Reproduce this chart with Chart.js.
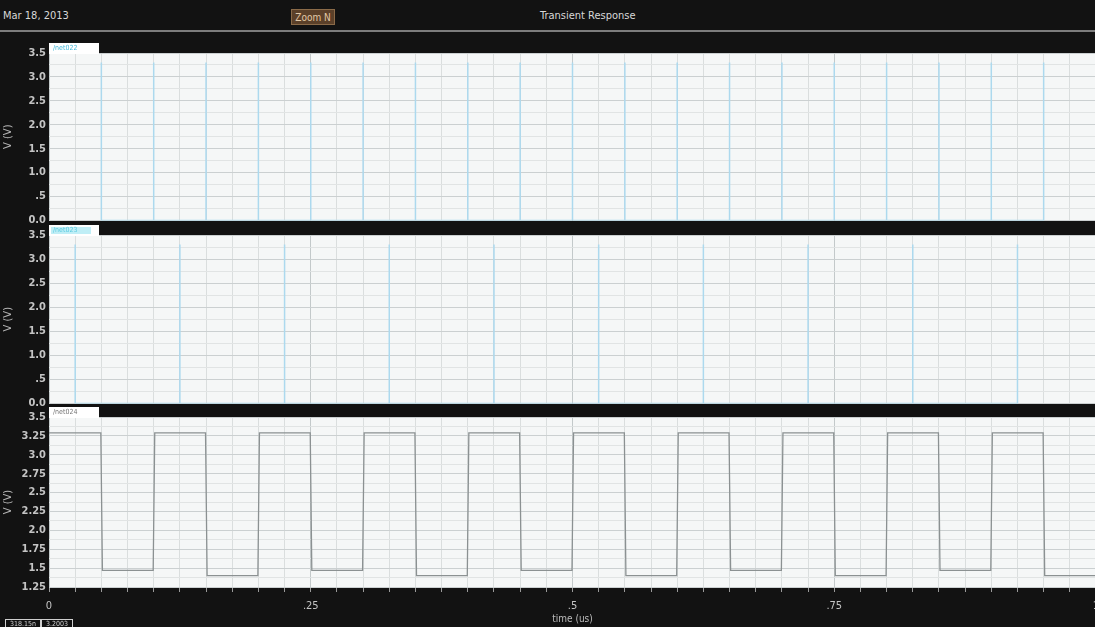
<!DOCTYPE html>
<html>
<head>
<meta charset="utf-8">
<script src="https://cdn.jsdelivr.net/npm/chart.js@4.4.1/dist/chart.umd.min.js"></script>
<style>
  html, body { margin:0; padding:0; width:1095px; height:627px; overflow:hidden; background:#121212; }
  body { position:relative; font-family:'Liberation Sans Narrow','DejaVu Sans Condensed','Liberation Sans',sans-serif; }
  canvas { position:absolute; left:0; }
  .hdr { position:absolute; color:#d8d8d8; font-size:11px; white-space:nowrap; }
  #hline { position:absolute; left:0; top:30px; width:1095px; height:2px; background:#7d7d7d; }
  #zoom { position:absolute; left:291px; top:9px; width:44px; height:16px; background:#5b4029; border:1px solid #8a6a48; color:#e2c9a8; font-size:10px; line-height:16px; text-align:center; box-sizing:border-box; }
  #status { position:absolute; left:5px; top:619px; height:9px; display:flex; }
  #status div { border:1px solid #cfcfcf; border-bottom:none; color:#cfcfcf; font-size:7px; line-height:8px; padding:0 4px; }
</style>
</head>
<body>
<div class="hdr" style="left:3px; top:9px;">Mar 18, 2013</div>
<div id="zoom">Zoom N</div>
<div class="hdr" style="left:540px; top:9px;">Transient Response</div>
<div id="hline"></div>

<canvas id="c1"></canvas>
<canvas id="c2"></canvas>
<canvas id="c3"></canvas>

<div id="status"><div>318.15n</div><div>3.2003</div></div>

<script>
// ---------- data ----------
// x axis (time, us)
const xTickLabels = ['0', '.25', '.5', '.75', '1'];
const xTickValues = [0, 0.25, 0.5, 0.75, 1];

// panel 1: narrow clock spikes (time of each spike, us)
const clkATimes = [0.05, 0.10, 0.15, 0.20, 0.25, 0.30, 0.35, 0.40, 0.45, 0.50,
                   0.55, 0.60, 0.65, 0.70, 0.75, 0.80, 0.85, 0.90, 0.95];
const clkAPeak = 3.3;

// panel 2: narrow clock spikes (time of each spike, us)
const clkBTimes = [0.025, 0.125, 0.225, 0.325, 0.425, 0.525, 0.625, 0.725, 0.825, 0.925];
const clkBPeak = 3.3;

// panel 3: /net024 square wave (time us, volts)
const outTime = [0, 0.0495, 0.051, 0.0995, 0.101, 0.1495, 0.151, 0.1995, 0.201, 0.2495,
                 0.251, 0.2995, 0.301, 0.3495, 0.351, 0.3995, 0.401, 0.4495, 0.451, 0.4995,
                 0.501, 0.5495, 0.551, 0.5995, 0.601, 0.6495, 0.651, 0.6995, 0.701, 0.7495,
                 0.751, 0.7995, 0.801, 0.8495, 0.851, 0.8995, 0.901, 0.9495, 0.951, 1.0];
const outVolt = [3.29, 3.29, 1.47, 1.47, 3.29, 3.29, 1.40, 1.40, 3.29, 3.29,
                 1.47, 1.47, 3.29, 3.29, 1.40, 1.40, 3.29, 3.29, 1.47, 1.47,
                 3.29, 3.29, 1.40, 1.40, 3.29, 3.29, 1.47, 1.47, 3.29, 3.29,
                 1.40, 1.40, 3.29, 3.29, 1.47, 1.47, 3.29, 3.29, 1.40, 1.40];

// y tick labels
const y12TickValues = [0, 0.5, 1.0, 1.5, 2.0, 2.5, 3.0, 3.5];
const y12TickLabels = ['0.0', '.5', '1.0', '1.5', '2.0', '2.5', '3.0', '3.5'];
const y3TickValues = [1.25, 1.5, 1.75, 2.0, 2.25, 2.5, 2.75, 3.0, 3.25, 3.5];
const y3TickLabels = ['1.25', '1.5', '1.75', '2.0', '2.25', '2.5', '2.75', '3.0', '3.25', '3.5'];

const panelNames = ['/net022', '/net023', '/net024'];

// ---------- helpers ----------
function spikes(times, peak) {
  const pts = [];
  times.forEach(t => { pts.push({x:t, y:0}); pts.push({x:t, y:peak}); pts.push({x:t, y:0}); });
  return pts;
}
function pairs(xs, ys) { return xs.map((x, i) => ({x:x, y:ys[i]})); }
function labelFor(values, labels, v) {
  for (let i = 0; i < values.length; i++) if (Math.abs(values[i] - v) < 1e-6) return labels[i];
  return '';
}
const FONT = "'Liberation Sans Narrow','DejaVu Sans Condensed','Liberation Sans',sans-serif";

const panelPlugin = {
  id: 'panelDeco',
  beforeDraw(chart) {
    const a = chart.chartArea, c = chart.ctx;
    c.save();
    c.fillStyle = '#f5f7f7';
    c.fillRect(a.left, a.top, a.right - a.left, a.bottom - a.top);
    c.restore();
  },
  afterDraw(chart) {
    const o = chart.options.plugins.panelDeco;
    const a = chart.chartArea, c = chart.ctx;
    c.save();
    c.fillStyle = '#ffffff';
    c.fillRect(a.left, a.top - 10, 50, 11);
    if (o.fill) { c.fillStyle = o.fill; c.fillRect(a.left + 2, a.top - 8, 40, 7); }
    c.fillStyle = o.color;
    c.font = "7px " + FONT;
    c.textBaseline = 'middle';
    c.fillText(o.text, a.left + 4, a.top - 4.5);
    c.restore();
  }
};

const CANVAS_W = 1108;
function makeChart(id, top, height, datasets, yCfg, showX, deco) {
  const cv = document.getElementById(id);
  cv.width = CANVAS_W; cv.height = height;
  cv.style.width = CANVAS_W + 'px'; cv.style.height = height + 'px';
  cv.style.top = top + 'px';
  return new Chart(cv, {
    type: 'line',
    data: { datasets: datasets },
    plugins: [panelPlugin],
    options: {
      responsive: false, animation: false, devicePixelRatio: 1,
      layout: { padding: { top: 20, right: 12, bottom: 0, left: 0 } },
      plugins: { legend: { display: false }, tooltip: { enabled: false }, panelDeco: deco },
      elements: { point: { radius: 0 }, line: { tension: 0 } },
      scales: {
        x: {
          type: 'linear', min: 0, max: 1,
          border: { display: false },
          afterFit: s => { s.height = showX ? 38 : 8; },
          grid: {
            color: ctx => (ctx.tick && labelFor(xTickValues, xTickLabels, ctx.tick.value) !== '') ? '#c3c9ca' : '#dadede',
            lineWidth: 1,
            drawTicks: showX, tickLength: 5, tickColor: '#9a9a9a'
          },
          ticks: {
            display: showX, stepSize: 0.025, autoSkip: false, maxRotation: 0, padding: 8,
            color: '#c4c4c4', font: { family: FONT, size: 11 },
            callback: v => labelFor(xTickValues, xTickLabels, v)
          },
          title: { display: showX, text: 'time (us)', color: '#bdbdbd', font: { family: FONT, size: 10 }, padding: { top: 0, bottom: 0 } }
        },
        y: {
          type: 'linear', min: yCfg.min, max: yCfg.max,
          border: { display: false },
          afterFit: s => { s.width = 49; },
          grid: {
            color: ctx => (ctx.tick && labelFor(yCfg.values, yCfg.labels, ctx.tick.value) !== '') ? '#cbd0d1' : '#e1e4e4',
            drawTicks: false
          },
          ticks: {
            stepSize: yCfg.step, autoSkip: false, padding: 3,
            color: '#c4c4c4', font: { family: FONT, size: 11, weight: 'bold' },
            callback: v => labelFor(yCfg.values, yCfg.labels, v)
          },
          title: { display: true, text: 'V (V)', color: '#b5b5b5', font: { family: FONT, size: 11 }, padding: { top: 2, bottom: 0 } }
        }
      }
    }
  });
}

const y12 = { min: 0, max: 3.5, step: 0.25, values: y12TickValues, labels: y12TickLabels };
const y3 = { min: 1.25, max: 3.5, step: 0.125, values: y3TickValues, labels: y3TickLabels };

makeChart('c1', 33, 197,
  [{ label: panelNames[0], data: spikes(clkATimes, clkAPeak), borderColor: '#acd9ee', borderWidth: 1.5 }],
  y12, false, { text: panelNames[0], color: '#46b8d8', fill: null });

makeChart('c2', 215, 198,
  [{ label: panelNames[1], data: spikes(clkBTimes, clkBPeak), borderColor: '#acd9ee', borderWidth: 1.5 }],
  y12, false, { text: panelNames[1], color: '#5ccbe0', fill: '#bfeef6' });

makeChart('c3', 397, 228,
  [{ label: panelNames[2], data: pairs(outTime, outVolt), borderColor: '#8b9192', borderWidth: 1.3 }],
  y3, true, { text: panelNames[2], color: '#777777', fill: null });
</script>
</body>
</html>
